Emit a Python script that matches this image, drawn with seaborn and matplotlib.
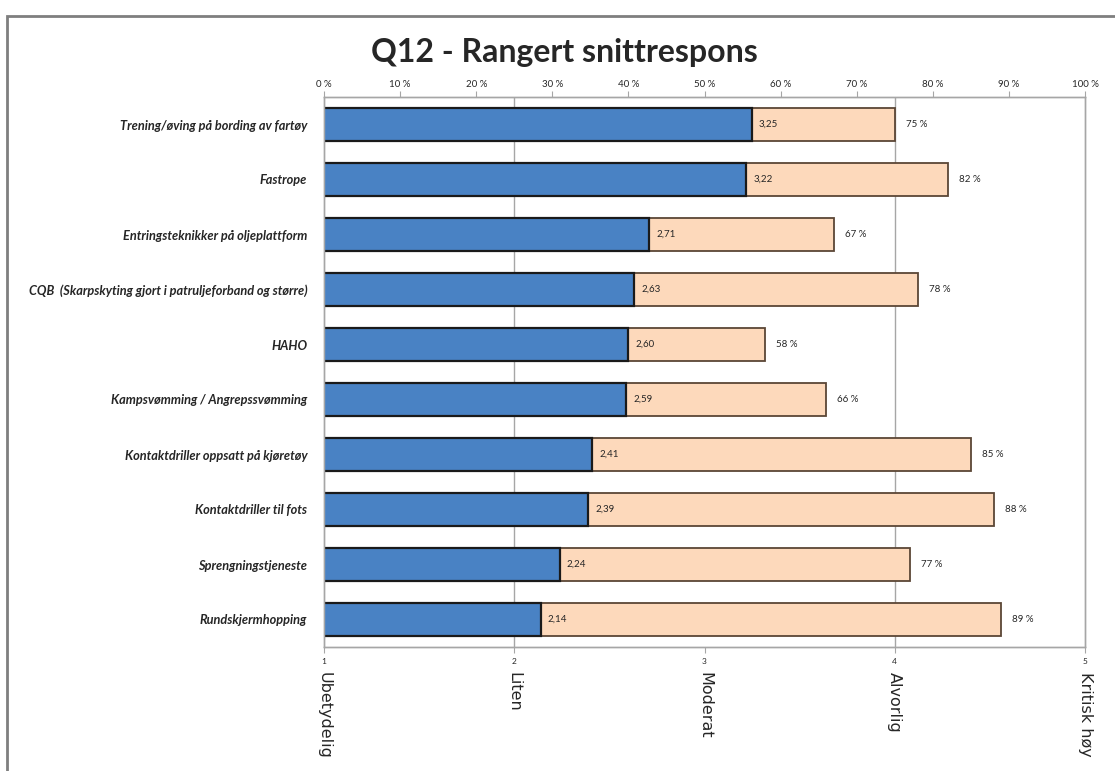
import matplotlib
matplotlib.use("Agg")
import matplotlib.pyplot as plt
import matplotlib.patches as mpatches
import numpy as np
import pandas as pd
import seaborn as sns

tiltak = ["Trening/øving på bording av fartøy", "Fastrope",
          "Entringsteknikker på oljeplattform",
          "CQB  (Skarpskyting gjort i patruljeforband og større)", "HAHO",
          "Kampsvømming / Angrepssvømming",
          "Kontaktdriller oppsatt på kjøretøy", "Kontaktdriller til fots",
          "Sprengningstjeneste", "Rundskjermhopping"]
snitt = [3.25, 3.22, 2.71, 2.63, 2.60, 2.59, 2.41, 2.39, 2.24, 2.14]
andel = [75, 82, 67, 78, 58, 66, 85, 88, 77, 89]
skala = ["Ubetydelig", "Liten", "Moderat", "Alvorlig", "Kritisk høy"]

df = pd.DataFrame({"tiltak": tiltak, "snitt": snitt, "andel": andel})

sns.set_style("white")
plt.rcParams["font.family"] = ["Lato", "DejaVu Sans"]

fig = plt.figure(figsize=(11.15, 7.71), dpi=100)
ax = fig.add_axes([324/1115, 1-647/771, (1085-324)/1115, (647-97)/771])
ax2 = ax.twiny()

grey = "#a6a6a6"

# peach bars: share of responses (top axis, percent)
sns.barplot(data=df, x="andel", y="tiltak", orient="h", color="#fdd9bb",
            saturation=1, edgecolor="#5b4636", linewidth=1.3, width=0.6, ax=ax)
# blue bars: mean score (bottom axis, 1-5)
sns.barplot(data=df, x="snitt", y="tiltak", orient="h", color="#4982c4",
            saturation=1, edgecolor="#1a1a1a", linewidth=1.6, width=0.6, ax=ax2)

ax.set_xlim(0, 100)
ax2.set_xlim(1, 5)
ax.set_ylim(len(tiltak) - 0.5, -0.5)

# top axis
ax.xaxis.tick_top()
ax.set_xticks(np.arange(0, 101, 10))
ax.set_xticklabels([f"{t} %" for t in range(0, 101, 10)], fontsize=7)
ax.set_xticks([25, 50, 75], minor=True)
ax.tick_params(axis="x", which="major", length=4, color=grey, pad=2, direction="out")
ax.tick_params(axis="x", which="minor", length=0)
ax.grid(axis="x", which="minor", color=grey, linewidth=1)
ax.set_axisbelow(True)
ax.set_xlabel("")
ax.set_ylabel("")

# y axis
ax.set_yticks(range(len(tiltak)))
ax.set_yticklabels(tiltak, fontsize=9.2, fontweight="bold", fontstyle="italic")
ax.set_yticks(np.arange(-0.5, len(tiltak), 1), minor=True)
ax.tick_params(axis="y", which="major", length=0, pad=12)
ax.tick_params(axis="y", which="minor", length=5, color=grey, direction="out")

# bottom axis
ax2.xaxis.tick_bottom()
ax2.xaxis.set_label_position("bottom")
ax2.set_xticks(range(1, 6))
ax2.set_xticklabels([str(i) for i in range(1, 6)], fontsize=6)
ax2.tick_params(axis="x", length=4, color=grey, pad=4, direction="out")
ax2.set_xlabel("")
ax2.set_ylabel("")
for i, s in enumerate(skala, start=1):
    ax2.text(i, -0.045, s, transform=ax2.get_xaxis_transform(), rotation=270,
             ha="center", va="top", fontsize=11.5, family="DejaVu Sans")

for a in (ax, ax2):
    for sp in a.spines.values():
        sp.set_color(grey)
        sp.set_linewidth(1)

ax2.bar_label(ax2.containers[0], labels=[f"{v:.2f}".replace(".", ",") for v in snitt],
              padding=5, fontsize=7)
ax.bar_label(ax.containers[0], labels=[f"{v} %" for v in andel],
             padding=8, fontsize=7)

fig.suptitle("Q12 - Rangert snittrespons", x=0.506, y=0.951, fontsize=23,
             fontweight="bold")

frame = mpatches.Rectangle((7/1115, -0.1), 1.2, 1.1 - 16/771, transform=fig.transFigure,
                           fill=False, edgecolor="#7f7f7f", linewidth=2)
fig.patches.append(frame)

fig.savefig("out.png", dpi=100)
